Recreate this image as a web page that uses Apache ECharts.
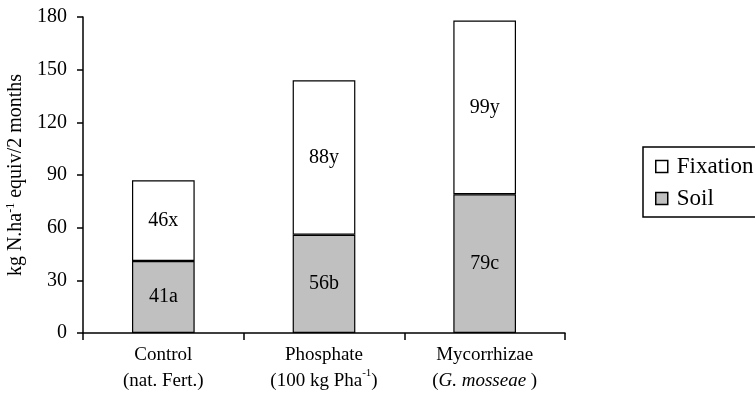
<!DOCTYPE html>
<html><head><meta charset="utf-8">
<script src="https://cdn.jsdelivr.net/npm/echarts@6/dist/echarts.min.js"></script>
<style>html,body{margin:0;padding:0;background:#fff}#c{width:755px;height:408px}</style>
</head><body><div id="c"></div>
<script>
var categories = ['Control', 'Phosphate', 'Mycorrhizae'];
var subLabels = ['(nat. Fert.)', '(100 kg Pha{sup|-1})', '({i|G. mosseae} )'];
var soil = [41, 56, 79];
var fixation = [46, 88, 99];
var soilLetters = ['a', 'b', 'c'];
var fixLetters = ['x', 'y', 'y'];
var yTicks = {min: 0, max: 180, interval: 30};

var FF = 'Liberation Serif';
var chart = echarts.init(document.getElementById('c'), null, {renderer: 'canvas'});
chart.setOption({
  animation: false,
  backgroundColor: '#fff',
  grid: {left: 83, right: 190, top: 17, bottom: 75, containLabel: false, outerBoundsMode: 'none'},
  legend: {
    data: ['Fixation', 'Soil'],
    orient: 'vertical',
    left: 643, top: 147,
    icon: 'rect',
    borderColor: '#000', borderWidth: 1.5,
    padding: [8, 6, 7, 12],
    itemGap: 9,
    itemWidth: 12, itemHeight: 12,
    textStyle: {fontFamily: FF, fontSize: 23, color: '#000', padding: [0, 0, 0, 4]},
    itemStyle: {borderColor: '#000', borderWidth: 1.5}
  },
  xAxis: {
    type: 'category',
    data: categories,
    axisLine: {lineStyle: {color: '#000', width: 1.5}},
    axisTick: {show: true, length: 7, lineStyle: {color: '#000', width: 1.5}},
    axisLabel: {
      interval: 0, hideOverlap: false,
      margin: 9, fontFamily: FF, fontSize: 19, color: '#000', lineHeight: 26,
      formatter: function (v, i) { return v + '\n' + subLabels[i]; },
      rich: {
        sup: {fontFamily: FF, fontSize: 11, verticalAlign: 'top', lineHeight: 14, color: '#000'},
        i: {fontFamily: FF, fontSize: 19, fontStyle: 'italic', color: '#000', lineHeight: 26}
      }
    }
  },
  yAxis: {
    type: 'value',
    min: yTicks.min, max: yTicks.max, interval: yTicks.interval,
    name: '{a|kg N.ha}{sup|-1}{a| equiv/2 months}',
    nameLocation: 'middle', nameGap: 53, nameRotate: 90,
    nameTextStyle: {
      fontFamily: FF, color: '#000',
      rich: {
        a: {fontFamily: FF, fontSize: 20, color: '#000', lineHeight: 22},
        sup: {fontFamily: FF, fontSize: 12, color: '#000', lineHeight: 12, verticalAlign: 'top'}
      }
    },
    axisLine: {show: true, lineStyle: {color: '#000', width: 1.5}},
    axisTick: {show: true, length: 6, lineStyle: {color: '#000', width: 1.5}},
    axisLabel: {fontFamily: FF, fontSize: 20, color: '#000', margin: 16},
    splitLine: {show: false}
  },
  series: [
    {
      name: 'Soil', type: 'bar', stack: 't', data: soil, barWidth: '39%',
      itemStyle: {color: '#c0c0c0', borderColor: '#000', borderWidth: 1.2},
      label: {show: true, position: 'inside', fontFamily: FF, fontSize: 20, color: '#000',
        formatter: function (p) { return p.value + soilLetters[p.dataIndex]; }}
    },
    {
      name: 'Fixation', type: 'bar', stack: 't', data: fixation, barWidth: '39%',
      itemStyle: {color: '#fff', borderColor: '#000', borderWidth: 1.2},
      label: {show: true, position: 'inside', fontFamily: FF, fontSize: 20, color: '#000',
        formatter: function (p) { return p.value + fixLetters[p.dataIndex]; }}
    }
  ]
});
</script></body></html>
